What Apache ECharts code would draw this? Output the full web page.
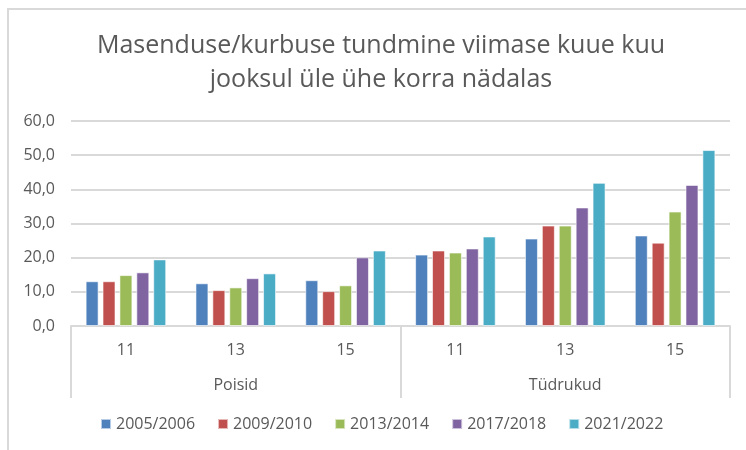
<!DOCTYPE html>
<html>
<head>
<meta charset="utf-8">
<script src="https://cdn.jsdelivr.net/npm/echarts@6/dist/echarts.min.js"></script>
<style>html,body{margin:0;padding:0;background:#fff;}#c{width:746px;height:450px;}</style>
</head>
<body>
<div id="c"></div>
<script>
var titleText = 'Masenduse/kurbuse tundmine viimase kuue kuu\njooksul üle ühe korra nädalas';
var ageLabels = ['11', '13', '15', '11', '13', '15'];
var genderLabels = ['Poisid', 'Tüdrukud'];
var seriesNames = ['2005/2006', '2009/2010', '2013/2014', '2017/2018', '2021/2022'];
var s2005 = [13.1, 12.5, 13.4, 20.9, 25.6, 26.5];
var s2009 = [13.1, 10.5, 10.2, 22.1, 29.4, 24.4];
var s2013 = [14.9, 11.3, 11.9, 21.5, 29.4, 33.5];
var s2017 = [15.7, 14.0, 20.1, 22.7, 34.7, 41.3];
var s2021 = [19.5, 15.4, 22.1, 26.2, 41.9, 51.5];
var colors = ['#4F81BD', '#C0504D', '#9BBB59', '#8064A2', '#4BACC6'];

var FONT = '"Open Sans", sans-serif';
var TXT = '#595959';
var LINE = '#d9d9d9';
var allData = [s2005, s2009, s2013, s2017, s2021];

var chart = echarts.init(document.getElementById('c'), null, {renderer: 'canvas'});
chart.setOption({
  animation: false,
  backgroundColor: '#fff',
  color: colors,
  title: {
    text: titleText,
    left: 376,
    top: 24,
    textAlign: 'center',
    textStyle: {fontFamily: FONT, fontSize: 25, fontWeight: 'normal', color: TXT, lineHeight: 34}
  },
  graphic: [{
    type: 'rect',
    shape: {x: 8, y: 9, width: 900, height: 600},
    style: {fill: 'none', stroke: LINE, lineWidth: 2},
    silent: true,
    z: -1
  }],
  legend: {
    bottom: 13,
    left: 95,
    icon: 'rect',
    itemWidth: 10,
    itemHeight: 10,
    itemGap: 22,
    textStyle: {fontFamily: FONT, fontSize: 16, color: TXT}
  },
  grid: {left: 71, right: 16, top: 121, bottom: 124},
  xAxis: [{
    type: 'category',
    data: ageLabels,
    position: 'bottom',
    axisLine: {show: true, lineStyle: {color: LINE, width: 2}},
    axisTick: {show: false},
    axisLabel: {fontFamily: FONT, fontSize: 16, color: TXT, margin: 16, interval: 0}
  }, {
    type: 'category',
    data: genderLabels,
    position: 'bottom',
    axisLine: {show: false},
    axisTick: {show: true, length: 72, lineStyle: {color: LINE, width: 2}},
    axisLabel: {fontFamily: FONT, fontSize: 16, color: TXT, margin: 51, interval: 0}
  }],
  yAxis: {
    type: 'value',
    min: 0,
    max: 60,
    interval: 10,
    axisLine: {show: false},
    axisTick: {show: false},
    splitLine: {lineStyle: {color: LINE, width: 2}},
    axisLabel: {
      fontFamily: FONT, fontSize: 16, color: TXT, margin: 16,
      formatter: function (v) { return v.toFixed(1).replace('.', ','); }
    }
  },
  series: seriesNames.map(function (n, i) {
    return {
      name: n,
      type: 'bar',
      xAxisIndex: 0,
      data: allData[i],
      barWidth: 13,
      barGap: '30%',
      itemStyle: {color: colors[i], borderColor: 'rgba(255,255,255,0.6)', borderWidth: 1}
    };
  })
});
</script>
</body>
</html>
